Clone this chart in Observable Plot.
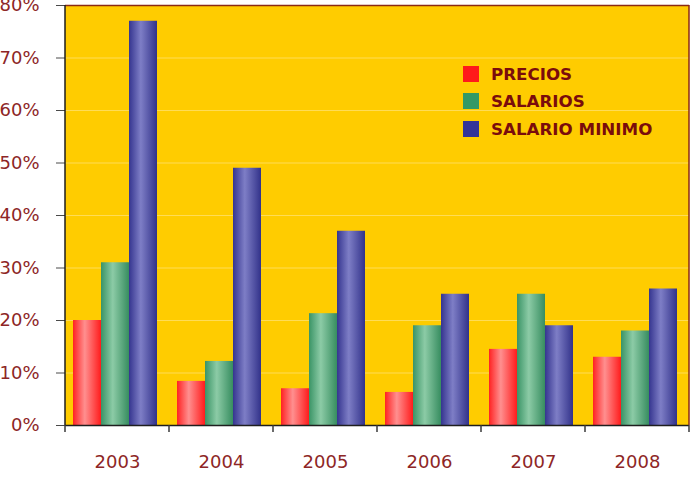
<!DOCTYPE html>
<html>
<head>
<meta charset="utf-8">
<script src="https://cdn.jsdelivr.net/npm/d3@7"></script>
<script src="https://cdn.jsdelivr.net/npm/@observablehq/plot@0.6"></script>
<style>
  body { margin: 0; background: #fff; font-family: "DejaVu Sans", sans-serif; }
  #chart { position: relative; width: 692px; height: 478px; }
  #chart svg [aria-label^="y-axis"] line,
  #chart svg [aria-label^="y-axis"] path { stroke: #4a4a4a; }
  .legend { position: absolute; left: 463px; top: 60px; font-weight: bold; font-size: 16.7px; color: #7a0c0c; }
  .legend .row { display: flex; align-items: center; height: 27.5px; }
  .legend .sw { width: 16px; height: 16px; margin-right: 12px; }
</style>
</head>
<body>
<div id="chart"></div>
<script>
// Annual increase by year
const years = ["2003", "2004", "2005", "2006", "2007", "2008"];
const series = ["PRECIOS", "SALARIOS", "SALARIO MINIMO"];
const precios = [0.20, 0.084, 0.07, 0.063, 0.145, 0.13];
const salarios = [0.31, 0.122, 0.213, 0.19, 0.25, 0.18];
const salarioMinimo = [0.77, 0.49, 0.37, 0.25, 0.19, 0.26];
const yTicks = [0, 0.1, 0.2, 0.3, 0.4, 0.5, 0.6, 0.7, 0.8];

// swatch colours and bar shading (edge, highlight, edge)
const swatchColors = ["#ff1a1a", "#339966", "#333399"];
const barShades = [
  ["#ff2222", "#ff8f8f", "#ff1c1c"],
  ["#3a9466", "#8ccba6", "#378d60"],
  ["#35358f", "#7e7ec6", "#32328a"]
];

const valuesBySeries = [precios, salarios, salarioMinimo];
const rows = years.flatMap((year, i) =>
  series.map((s, j) => ({year, series: s, value: valuesBySeries[j][i]}))
);

const ink = "#8e2626";
const plotFill = "#ffcc00";

const chart = Plot.plot({
  width: 692,
  height: 478,
  marginLeft: 64,
  marginRight: 3,
  marginTop: 5,
  marginBottom: 53,
  style: {fontSize: "18px", fontFamily: "DejaVu Sans, sans-serif", color: ink, background: "white"},
  facet: {data: rows, x: "year"},
  fx: {domain: years, padding: 0, round: true, label: null, tickSize: 0, tickPadding: 30},
  x: {domain: series, paddingInner: 0, paddingOuter: 0.34, align: 0.42, axis: null},
  y: {domain: [0, 0.8], ticks: yTicks, tickFormat: ".0%", tickSize: 9, tickPadding: 17, label: null},
  color: {domain: series, range: series.map((s, j) => `url(#shade${j})`)},
  marks: [
    Plot.ruleY(yTicks.slice(1, -1), {stroke: "#ffe27a", strokeWidth: 1, strokeOpacity: 0.7}),
    Plot.barY(rows, {x: "series", y: "value", fill: "series"}),
    Plot.ruleY([0.8], {stroke: "#8a2a14", strokeWidth: 1.5}),
    Plot.ruleY([0], {stroke: "#1e1e1e", strokeWidth: 1.5})
  ]
});

const svg = chart.tagName.toLowerCase() === "svg" ? chart : chart.querySelector("svg");

// horizontal shading gradients for the bars
const defs = d3.select(svg).insert("defs", ":first-child");
barShades.forEach((c, j) => {
  const g = defs.append("linearGradient").attr("id", `shade${j}`).attr("x1", 0).attr("x2", 1).attr("y1", 0).attr("y2", 0);
  g.append("stop").attr("offset", "0%").attr("stop-color", c[0]);
  g.append("stop").attr("offset", "42%").attr("stop-color", c[1]);
  g.append("stop").attr("offset", "100%").attr("stop-color", c[2]);
});

// group boundaries from the facet scale
const fxs = chart.scale("fx");
const ys = chart.scale("y");
const band = d3.scaleBand().domain(fxs.domain).range(fxs.range)
  .paddingInner(fxs.paddingInner ?? 0).paddingOuter(fxs.paddingOuter ?? 0)
  .align(fxs.align ?? 0.5).round(!!fxs.round);
const edges = [band(years[0]), ...years.map(y => band(y) + band.bandwidth())];
const y0 = ys.range[0], yTop = ys.range[1];

// one continuous plotting-area background, behind everything else
d3.select(svg).insert("rect", "defs + *")
  .attr("x", edges[0]).attr("y", yTop)
  .attr("width", edges[edges.length - 1] - edges[0]).attr("height", y0 - yTop)
  .attr("fill", plotFill);

// tick marks under the axis at group edges, plus the side borders
const overlay = d3.select(svg).append("g").attr("aria-label", "group edges");
overlay.selectAll("line.tick-edge").data(edges).join("line")
  .attr("x1", d => d).attr("x2", d => d).attr("y1", y0).attr("y2", y0 + 7)
  .attr("stroke", "#3a3a3a").attr("stroke-width", 1.5);
overlay.append("line")
  .attr("x1", edges[0]).attr("x2", edges[0]).attr("y1", yTop).attr("y2", y0)
  .attr("stroke", "#1e1e1e").attr("stroke-width", 1.5);
overlay.append("line")
  .attr("x1", edges[edges.length - 1]).attr("x2", edges[edges.length - 1]).attr("y1", yTop).attr("y2", y0)
  .attr("stroke", "#8a2a14").attr("stroke-width", 1.5);

const container = document.getElementById("chart");
container.appendChild(chart);

// legend inside the plotting area
const legend = document.createElement("div");
legend.className = "legend";
series.forEach((s, j) => {
  const row = document.createElement("div");
  row.className = "row";
  const sw = document.createElement("span");
  sw.className = "sw";
  sw.style.background = swatchColors[j];
  const label = document.createElement("span");
  label.textContent = s;
  row.appendChild(sw);
  row.appendChild(label);
  legend.appendChild(row);
});
container.appendChild(legend);
</script>
</body>
</html>
